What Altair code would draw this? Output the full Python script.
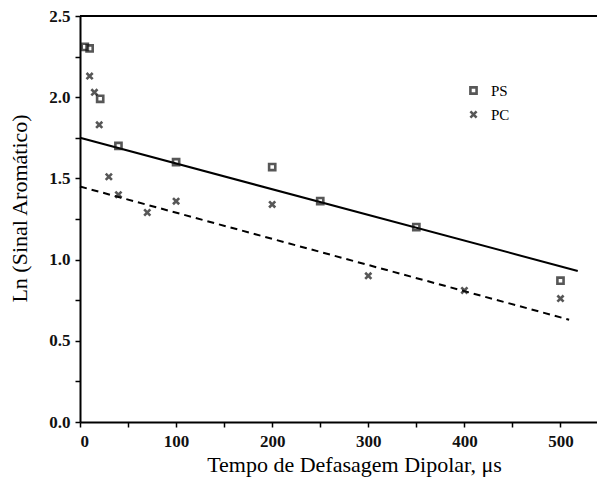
import altair as alt
import pandas as pd

# PS (squares)
ps_x = [5, 10, 21, 40, 100, 200, 250, 350, 500]
ps_y = [2.31, 2.30, 1.99, 1.70, 1.60, 1.57, 1.36, 1.20, 0.87]
# PC (crosses)
pc_x = [10, 15, 20, 30, 40, 70, 100, 200, 300, 400, 500]
pc_y = [2.13, 2.03, 1.83, 1.51, 1.40, 1.29, 1.36, 1.34, 0.90, 0.81, 0.76]
# linear fits
ps_fit_x = [0, 518]
ps_fit_y = [1.75, 0.93]
pc_fit_x = [0, 509]
pc_fit_y = [1.45, 0.63]

series = ["PS", "PC"]

pts = pd.DataFrame(
    {"t": ps_x + pc_x, "v": ps_y + pc_y,
     "s": ["PS"] * len(ps_x) + ["PC"] * len(pc_x)}
)
fit_ps = pd.DataFrame({"t": ps_fit_x, "v": ps_fit_y})
fit_pc = pd.DataFrame({"t": pc_fit_x, "v": pc_fit_y})

FONT = "Liberation Serif"

x_scale = alt.Scale(domain=[0, 538], nice=False, zero=False)
y_scale = alt.Scale(domain=[0, 2.5], nice=False)

x_axis = alt.Axis(
    title="Tempo de Defasagem Dipolar, μs",
    values=list(range(0, 550, 50)),
    labelExpr="datum.value % 100 === 0 ? datum.label : ''",
    grid=False, tickSize=5, tickWidth=1.5, tickColor="black",
    domainColor="black", domainWidth=2,
    labelFont=FONT, labelFontSize=17, labelFontWeight="bold", labelColor="#111",
    labelPadding=6,
    titleFont=FONT, titleFontSize=22, titleFontWeight="normal", titleColor="black",
    titlePadding=5, titleX=274,
)
y_axis = alt.Axis(
    title="Ln (Sinal Aromático)",
    values=[0, 0.25, 0.5, 0.75, 1.0, 1.25, 1.5, 1.75, 2.0, 2.25, 2.5],
    labelExpr="(round(datum.value*100)) % 50 === 0 ? format(datum.value, '.1f') : ''",
    grid=False, tickSize=5, tickWidth=1.5, tickColor="black",
    domainColor="black", domainWidth=2,
    labelFont=FONT, labelFontSize=17, labelFontWeight="bold", labelColor="#111",
    labelPadding=5,
    titleFont=FONT, titleFontSize=22, titleFontWeight="normal", titleColor="black",
    titlePadding=17, titleY=192,
)

points = alt.Chart(pts).mark_point(filled=False, strokeWidth=2.6, size=38, color="#111").encode(
    x=alt.X("t:Q", scale=x_scale, axis=x_axis),
    y=alt.Y("v:Q", scale=y_scale, axis=y_axis),
    shape=alt.Shape(
        "s:N",
        scale=alt.Scale(domain=series, range=["square", "M-1,-1L1,1M-1,1L1,-1"]),
        legend=alt.Legend(
            title=None, orient="none", legendX=386, legendY=67,
            labelFont=FONT, labelFontSize=15, labelColor="black",
            symbolSize=38, symbolStrokeWidth=2.6, symbolStrokeColor="#111",
            symbolFillColor="transparent", labelOffset=10, rowPadding=7,
        ),
    ),
)

line_ps = alt.Chart(fit_ps).mark_line(color="black", strokeWidth=2).encode(
    x=alt.X("t:Q", scale=x_scale), y=alt.Y("v:Q", scale=y_scale)
)
line_pc = alt.Chart(fit_pc).mark_line(color="black", strokeWidth=2, strokeDash=[7, 5]).encode(
    x=alt.X("t:Q", scale=x_scale), y=alt.Y("v:Q", scale=y_scale)
)
top_rule = alt.Chart(pd.DataFrame({"v": [2.5]})).mark_rule(color="black", strokeWidth=2).encode(
    y=alt.Y("v:Q", scale=y_scale)
)

chart = alt.layer(top_rule, line_ps, line_pc, points).properties(
    width=517, height=406,
    padding={"left": 80, "top": 16, "right": 0, "bottom": 59},
    autosize=alt.AutoSizeParams(type="none"),
    background="white",
).configure_view(stroke=None)

chart.save("out.html", embed_options={"renderer": "svg", "actions": False})
